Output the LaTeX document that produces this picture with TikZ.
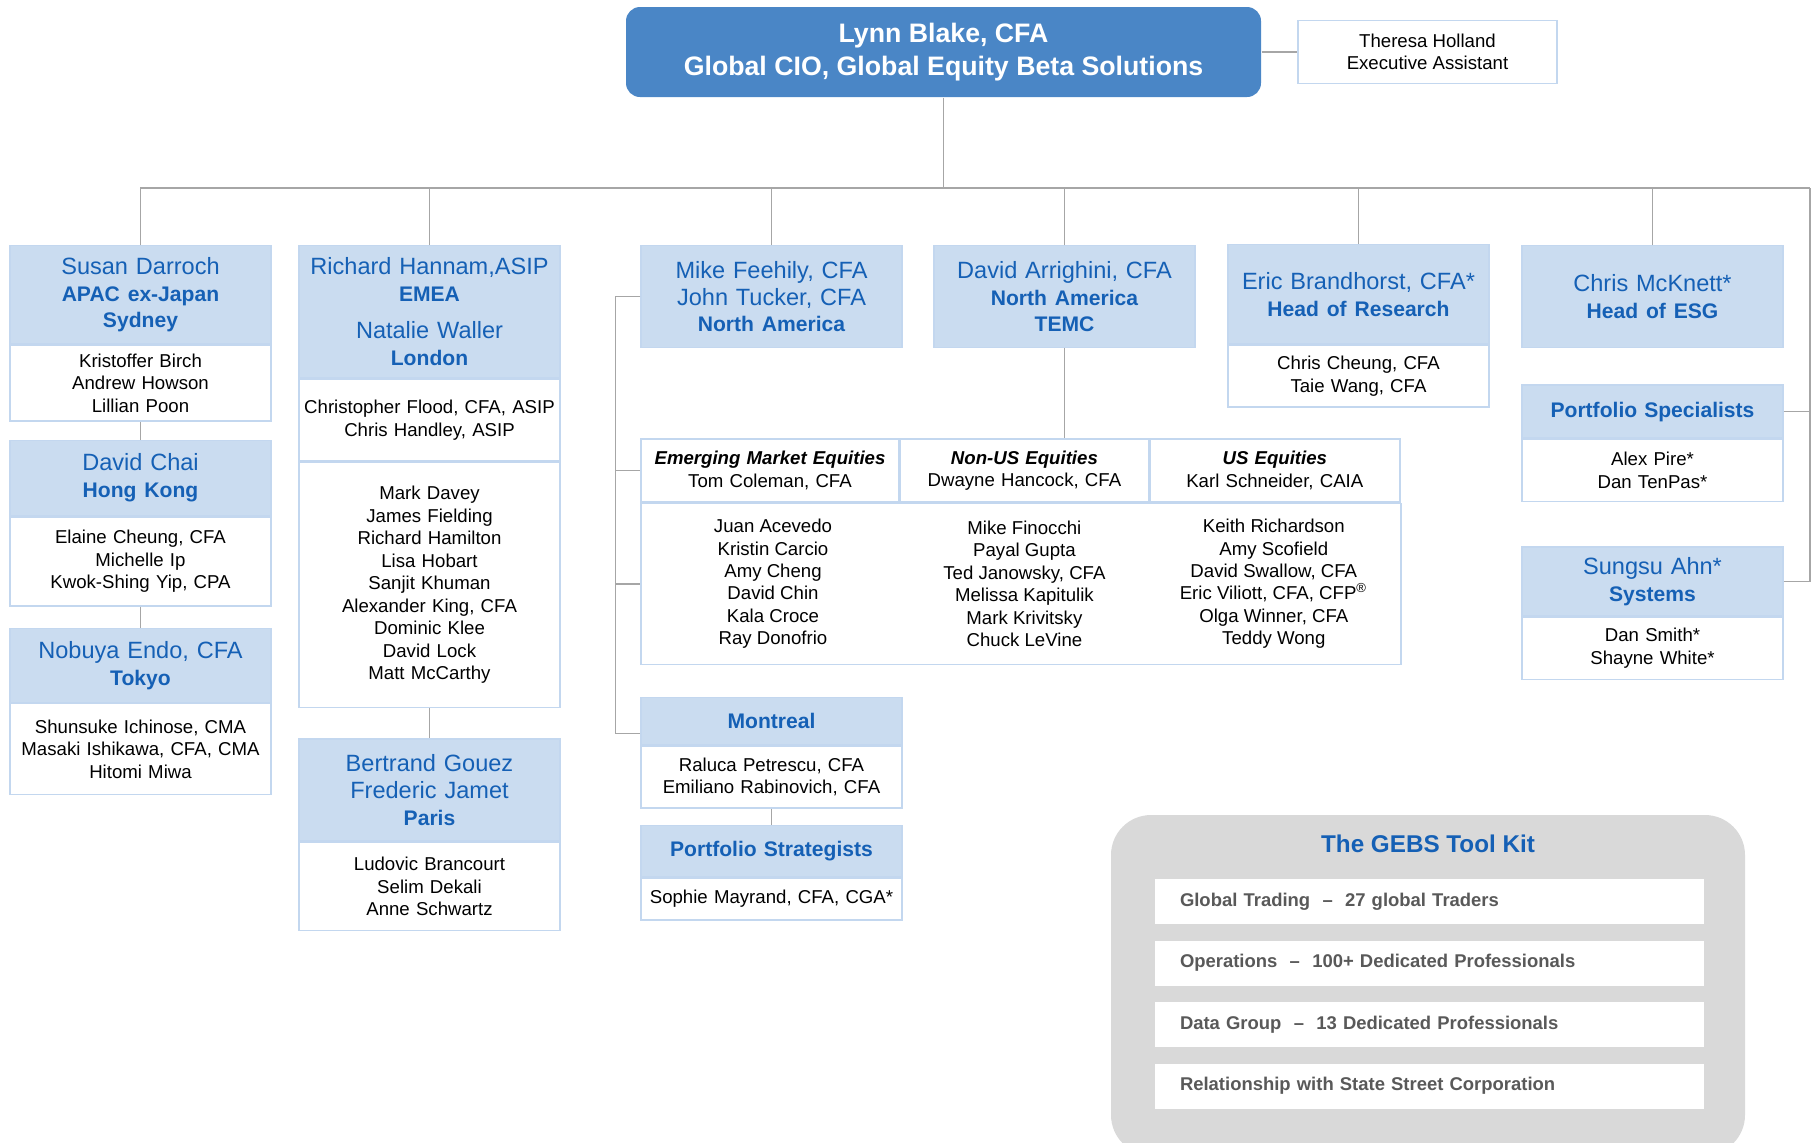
\documentclass[tikz,border=0pt]{standalone}
\usepackage{fontspec}
\setmainfont{Liberation Sans}
\usetikzlibrary{positioning}
\definecolor{gebsblue}{HTML}{4A86C6}
\definecolor{gebspale}{HTML}{CADCF0}
\definecolor{gebsline}{HTML}{C3D7EF}
\definecolor{gebstext}{HTML}{1560B5}
\definecolor{gebsgray}{HTML}{A6A6A6}
\definecolor{gebskit}{HTML}{D9D9D9}
\definecolor{gebsdark}{HTML}{595959}
\newcommand\gbody{\fontsize{5.3}{6.4}\selectfont}
\newcommand\gname{\fontsize{6.7}{7.6}\selectfont}
\newcommand\gsub{\fontsize{6}{7.2}\selectfont\bfseries}
\newcommand\gtop{\fontsize{7.6}{9.6}\selectfont\bfseries}
\newcommand\gkit{\fontsize{5.25}{6.4}\selectfont\bfseries}
\newcommand\gkittitle{\fontsize{6.9}{8.2}\selectfont\bfseries}

\begin{document}
\begin{tikzpicture}[
    every node/.style={font=\gbody, inner ysep=0.02cm},
    hdr/.style={fill=gebspale, draw=gebsline, text=gebstext, font=\gname,
      align=center, text width=2.53cm, inner xsep=0.04cm},
    bdy/.style={fill=white, draw=gebsline, align=center, text width=2.53cm, inner xsep=0.04cm},
    cell/.style={bdy, minimum height=0.63cm},
    link/.style={draw=gebsgray, line width=0.4pt},
    kitbar/.style={fill=white, text=gebsdark, font=\gkit, align=left,
      text width=4.99cm, inner xsep=0.25cm, minimum height=0.45cm},
  ]
  \useasboundingbox (0,0) rectangle (18.18,-11.42);

  % CIO and assistant
  \node[fill=gebsblue, text=white, font=\gtop, align=center, rounded corners=0.14cm,
    minimum width=6.35cm, minimum height=0.9cm] (cio) at (9.435,-0.52)
    {Lynn Blake, CFA\\Global CIO, Global Equity Beta Solutions};
  \node[draw=gebsline, fill=white, align=center, minimum width=2.59cm, minimum height=0.63cm]
    (ea) at (14.275,-0.52) {Theresa Holland\\Executive Assistant};
  \draw[link] (cio.east) -- (ea.west);

  % APAC
  \node[hdr, anchor=north, minimum height=0.98cm] (sd) at (1.405,-2.45)
    {Susan Darroch\\{\gsub APAC ex-Japan}\\{\gsub Sydney}};
  \node[bdy, minimum height=0.76cm, below=0pt of sd] (sdb) {Kristoffer Birch\\Andrew Howson\\Lillian Poon};
  \node[hdr, minimum height=0.75cm, below=0.18cm of sdb] (chai) {David Chai\\{\gsub Hong Kong}};
  \node[bdy, minimum height=0.89cm, below=0pt of chai] (chaib)
    {Elaine Cheung, CFA\\Michelle Ip\\Kwok-Shing Yip, CPA};
  \node[hdr, minimum height=0.74cm, below=0.21cm of chaib] (endo) {Nobuya Endo, CFA\\{\gsub Tokyo}};
  \node[bdy, minimum height=0.91cm, below=0pt of endo] (endob)
    {Shunsuke Ichinose, CMA\\Masaki Ishikawa, CFA, CMA\\Hitomi Miwa};
  \draw[link] (sdb.south) -- (chai.north);
  \draw[link] (chaib.south) -- (endo.north);

  % EMEA
  \node[hdr, anchor=north, minimum height=1.32cm] (rh) at (4.295,-2.45)
    {Richard Hannam,ASIP\\{\gsub EMEA}\\[3pt]Natalie Waller\\{\gsub London}};
  \node[bdy, minimum height=0.82cm, below=0pt of rh] (rhb) {Christopher Flood, CFA, ASIP\\Chris Handley, ASIP};
  \node[bdy, minimum height=2.45cm, below=0pt of rhb] (rhc)
    {Mark Davey\\James Fielding\\Richard Hamilton\\Lisa Hobart\\Sanjit Khuman\\Alexander King, CFA\\Dominic Klee\\David Lock\\Matt McCarthy};
  \node[hdr, minimum height=1.02cm, below=0.3cm of rhc] (paris)
    {Bertrand Gouez\\Frederic Jamet\\{\gsub Paris}};
  \node[bdy, minimum height=0.88cm, below=0pt of paris] (parisb)
    {Ludovic Brancourt\\Selim Dekali\\Anne Schwartz};
  \draw[link] (rhc.south) -- (paris.north);

  % North America
  \node[hdr, anchor=north, minimum height=1.02cm] (mf) at (7.715,-2.45)
    {Mike Feehily, CFA\\John Tucker, CFA\\{\gsub North America}};
  \node[hdr, anchor=north, minimum height=1.02cm] (da) at (10.645,-2.45)
    {David Arrighini, CFA\\{\gsub North America}\\{\gsub TEMC}};

  \node[cell, text width=2.5cm] (emh) at (7.7,-4.705)
    {\textbf{\textit{Emerging Market Equities}}\\Tom Coleman, CFA};
  \node[cell, text width=2.4cm, right=0pt of emh] (nuh)
    {\textbf{\textit{Non-US Equities}}\\Dwayne Hancock, CFA};
  \node[cell, text width=2.42cm, right=0pt of nuh] (ush)
    {\textbf{\textit{US Equities}}\\Karl Schneider, CAIA};
  \node[draw=gebsline, fill=white, minimum width=7.6cm, minimum height=1.61cm, anchor=north west]
    (tbody) at (emh.south west) {};
  \node[align=center, xshift=0.03cm] (emlist) at (emh |- tbody)
    {Juan Acevedo\\Kristin Carcio\\Amy Cheng\\David Chin\\Kala Croce\\Ray Donofrio};
  \node[align=center] (nulist) at (nuh |- tbody)
    {Mike Finocchi\\Payal Gupta\\Ted Janowsky, CFA\\Melissa Kapitulik\\Mark Krivitsky\\Chuck LeVine};
  \node[align=center, xshift=-0.01cm] (uslist) at (ush |- tbody)
    {Keith Richardson\\Amy Scofield\\David Swallow, CFA\\Eric Viliott, CFA, CFP\textsuperscript{®}\\Olga Winner, CFA\\Teddy Wong};

  \node[hdr, font=\gsub, anchor=north, minimum height=0.47cm] (mont) at (7.715,-6.97) {Montreal};
  \node[bdy, minimum height=0.62cm, below=0pt of mont] (montb)
    {Raluca Petrescu, CFA\\Emiliano Rabinovich, CFA};
  \node[hdr, font=\gsub, minimum height=0.51cm, below=0.16cm of montb] (strat) {Portfolio Strategists};
  \node[bdy, minimum height=0.42cm, below=0pt of strat] (stratb) {Sophie Mayrand, CFA, CGA*};
  \draw[link] (montb.south) -- (strat.north);

  \draw[link] (mf.west) -- ++(-0.25,0) coordinate (nabar) |- ([yshift=-0.12cm]mont.west);
  \draw[link] (nabar |- emh.west) -- (emh.west);
  \draw[link] (nabar |- tbody.west) -- (tbody.west);
  \draw[link] (da.south) -- (da.south |- emh.north);

  % Research and ESG
  \node[hdr, anchor=north, minimum height=0.99cm] (eb) at (13.585,-2.44)
    {Eric Brandhorst, CFA*\\{\gsub Head of Research}};
  \node[bdy, minimum height=0.62cm, below=0pt of eb] (ebb) {Chris Cheung, CFA\\Taie Wang, CFA};

  \node[hdr, anchor=north, minimum height=1.02cm] (cm) at (16.525,-2.45)
    {Chris McKnett*\\{\gsub Head of ESG}};
  \node[hdr, font=\gsub, minimum height=0.53cm, below=0.36cm of cm] (spec) {Portfolio Specialists};
  \node[bdy, minimum height=0.62cm, below=0pt of spec] (specb) {Alex Pire*\\Dan TenPas*};
  \node[hdr, minimum height=0.69cm, below=0.44cm of specb] (ahn) {Sungsu Ahn*\\{\gsub Systems}};
  \node[bdy, minimum height=0.62cm, below=0pt of ahn] (ahnb) {Dan Smith*\\Shayne White*};

  % Reporting lines
  \coordinate (bus) at (9.435,-1.88);
  \coordinate (rbus) at (18.1,-1.88);
  \draw[link] (cio.south) -- (bus) -- (rbus);
  \foreach \n in {sd, rh, mf, da, eb, cm}
    \draw[link] (\n.north) |- (bus);
  \draw[link] (spec.east) -| (rbus);
  \draw[link] (ahn.east) -| (rbus);

  % Tool kit
  \node[fill=gebskit, rounded corners=0.4cm, minimum width=6.34cm, minimum height=3.4cm, inner sep=0]
    (kit) at (14.28,-9.85) {};
  \node[text=gebstext, font=\gkittitle] (kittitle) at (14.28,-8.44) {The GEBS Tool Kit};
  \foreach \i/\txt in {1/Global Trading~~–~~27 global Traders,
      2/Operations~~–~~100+ Dedicated Professionals,
      3/Data Group~~–~~13 Dedicated Professionals,
      4/Relationship with State Street Corporation}
    \node[kitbar] (bar\i) at (14.295,{-9.015-0.615*(\i-1)}) {\txt};
\end{tikzpicture}
\end{document}
